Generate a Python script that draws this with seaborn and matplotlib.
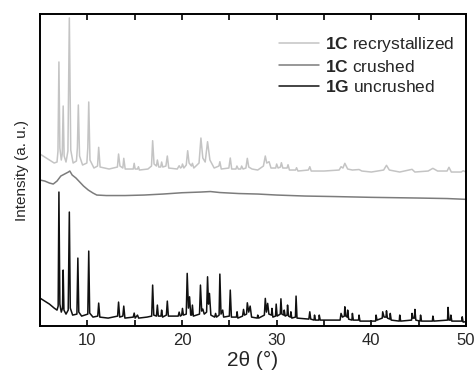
import matplotlib
matplotlib.use("Agg")
import matplotlib.pyplot as plt
import seaborn as sns
from matplotlib.ticker import MultipleLocator

# 1G uncrushed (black)
g_x = [5.0, 5.5, 6.0, 6.5, 6.8, 6.92, 7.0, 7.1, 7.25, 7.38, 7.45, 7.53, 7.75, 7.98, 8.1, 8.2, 8.45, 8.9, 9.0, 9.1,
       9.4, 10.05, 10.15, 10.25, 10.6, 11.1, 11.2, 11.32, 12.2, 13.2, 13.3, 13.42, 13.75, 13.85, 13.97, 14.85, 14.95,
       15.05, 15.3, 15.42, 16.3, 16.8, 16.9, 17.02, 17.3, 17.4, 17.5, 17.78, 17.85, 17.95, 18.35, 18.45, 18.56, 19.6,
       19.7, 19.82, 19.97, 20.05, 20.15, 20.45, 20.55, 20.68, 20.8, 20.92, 21.02, 21.1, 21.2, 21.85, 21.95, 22.08,
       22.2, 22.35, 22.6, 22.7, 22.8, 22.9, 23.05, 23.45, 23.55, 23.65, 23.92, 24.0, 24.12, 24.3, 24.4, 25.0, 25.1,
       25.22, 25.75, 25.82, 25.9, 26.4, 26.5, 26.6, 26.82, 26.9, 27.05, 27.2, 27.35, 27.95, 28.0, 28.1, 28.7, 28.8,
       28.92, 29.05, 29.18, 29.45, 29.5, 29.6, 29.88, 29.95, 30.05, 30.38, 30.45, 30.55, 30.75, 30.8, 30.9, 31.1,
       31.15, 31.25, 31.45, 31.5, 31.6, 31.98, 32.05, 32.15, 33.4, 33.5, 33.6, 33.95, 34.0, 34.1, 34.45, 34.5, 34.6,
       36.7, 36.8, 36.95, 37.15, 37.2, 37.3, 37.45, 37.5, 37.6, 37.95, 38.0, 38.1, 38.65, 38.7, 38.8, 40.45, 40.5,
       40.6, 41.15, 41.2, 41.35, 41.55, 41.6, 41.7, 41.95, 42.0, 42.1, 42.95, 43.0, 43.1, 44.25, 44.3, 44.4, 44.55,
       44.6, 44.7, 45.15, 45.2, 45.3, 46.45, 46.5, 46.6, 48.05, 48.1, 48.2, 48.35, 48.4, 48.5, 49.55, 49.6, 49.7, 50.0]
g_y = [28, 25, 22, 18, 16, 20, 134, 22, 14, 18, 56, 16, 12, 16, 114, 18, 11, 12, 68, 14,
       10, 12, 75, 13, 9, 10, 23, 9, 8, 10, 24, 9, 10, 20, 8, 9, 13,
       8, 11, 8, 9, 10, 41, 11, 10, 21, 10, 10, 16, 9, 11, 25, 10, 10,
       14, 10, 11, 17.7, 11, 12, 52.7, 18, 29.3, 11, 11, 21, 10, 12, 41, 15,
       17, 12, 14, 49.3, 22, 32.7, 11, 9, 12.7, 9, 11, 52, 12, 16, 9, 10, 36,
       9, 9, 14.3, 8, 10, 16.7, 11, 12, 23.3, 14, 20, 9, 8, 11, 8, 11, 27.7,
       14, 22.7, 12, 11, 17.7, 9, 10, 22, 10, 12, 27.3, 12, 11, 16, 10, 11,
       21, 10, 9, 14.3, 8, 9, 30, 8, 7, 14.3, 7, 6, 11, 6, 6, 11, 6,
       6, 12.7, 9, 10, 19.3, 10, 9, 16, 7, 6, 12.7, 6, 6, 11, 5, 5, 11,
       6, 8, 14.3, 9, 9, 15.3, 8, 7, 12.7, 6, 5, 11, 5, 6, 12.7, 8, 8,
       16.7, 6, 5, 11, 5, 5, 10, 5, 6, 18.7, 6, 6, 11, 5, 5, 9.3, 4, 4.5]

# 1C crushed (mid grey)
cc_x = [5.0, 5.5, 6.0, 6.4, 6.8, 7.2, 7.6, 8.0, 8.15, 8.4, 8.8, 9.2, 9.6, 10.1, 10.6, 11.0, 12.0, 14.0, 16.0,
        18.0, 20.0, 22.0, 23.0, 24.0, 26.0, 28.0, 30.0, 33.0, 36.0, 40.0, 45.0, 48.0, 50.0]
cc_y = [146, 145, 143, 142, 145, 150, 152, 154, 155, 151, 148, 144, 140, 136, 133, 131, 130.5, 130.5, 131,
        132, 133.3, 134, 134.5, 133.5, 132.5, 132, 131, 130, 129.5, 128.7, 128, 127.5, 126.7]

# 1C recrystallized (light grey)
cr_x = [5.0, 5.5, 6.0, 6.5, 6.8, 6.9, 7.0, 7.1, 7.25, 7.35, 7.45, 7.55, 7.75, 7.95, 8.1, 8.25, 8.5, 8.85, 8.95,
        9.05, 9.18, 9.5, 9.95, 10.05, 10.15, 10.28, 10.7, 11.08, 11.2, 11.35, 12.3, 13.18, 13.3, 13.45, 13.75,
        13.85, 14.0, 14.85, 14.95, 15.05, 15.3, 15.4, 15.5, 16.4, 16.78, 16.9, 17.05, 17.3, 17.4, 17.55, 17.75,
        17.85, 17.97, 18.3, 18.45, 18.6, 19.5, 19.7, 19.85, 19.97, 20.05, 20.2, 20.45, 20.6, 20.75, 21.0, 21.1,
        21.25, 21.8, 22.0, 22.2, 22.45, 22.7, 22.95, 23.4, 23.9, 24.0, 24.15, 24.95, 25.1, 25.25, 25.7, 25.8,
        25.95, 26.2, 26.3, 26.45, 26.75, 26.9, 27.05, 27.4, 28.0, 28.6, 28.8, 28.95, 29.2, 29.4, 29.9, 30.0,
        30.15, 30.4, 30.5, 30.65, 31.1, 31.2, 31.35, 32.0, 32.1, 32.25, 33.35, 33.5, 33.65, 35.0, 36.6, 36.8,
        37.0, 37.2, 37.5, 38.0, 38.7, 39.0, 40.0, 41.3, 41.6, 41.9, 43.0, 44.3, 44.6, 46.0, 46.5, 47.0, 48.0,
        48.2, 48.45, 49.5, 49.7, 50.0]
cr_y = [172, 169, 166, 163, 164, 175, 264, 178, 166, 172, 220, 170, 164, 175, 308, 176, 163, 165, 178,
        221, 170, 161, 163, 178, 224, 166, 158, 160, 178.7, 159, 157, 159, 172, 160, 158,
        167.7, 157, 157, 162.7, 157, 157, 159.3, 156, 157, 160, 185.3, 162, 160, 166, 159, 159,
        164, 159, 160, 170, 158, 157, 160.3, 158, 159, 162, 158, 161, 175.3, 163, 160, 162.7,
        158, 163, 188, 168, 164, 184.3, 166, 158, 160, 164.3, 157, 158, 168, 157, 157, 160,
        157, 157, 160, 157, 158, 167.7, 159, 157, 156, 160, 170, 163, 164.3, 158, 158, 162,
        158, 159, 163.3, 158, 158, 161.3, 156, 156, 158.3, 155, 156, 159.3, 155, 155, 156, 159.3,
        158, 162.7, 157, 156, 156.5, 155, 154, 156, 160.7, 156, 154, 156.7, 154, 155, 157.7, 155, 155,
        158.7, 154, 154, 155.3, 154]

sns.set_style("white")
plt.rcParams["font.family"] = ["Liberation Sans", "DejaVu Sans"]
plt.rcParams["mathtext.fontset"] = "custom"
plt.rcParams["mathtext.rm"] = "Liberation Sans"
plt.rcParams["mathtext.bf"] = "Liberation Sans:bold"

fig = plt.figure(figsize=(4.76, 3.77), dpi=100)
ax = fig.add_axes([0.084, 0.135, 0.895, 0.828])

sns.lineplot(x=cr_x, y=cr_y, color="#c4c4c4", lw=1.1, estimator=None, sort=False,
             label=r"$\mathbf{1C}$ recrystallized", ax=ax)
sns.lineplot(x=cc_x, y=cc_y, color="#7c7c7c", lw=1.1, estimator=None, sort=False,
             label=r"$\mathbf{1C}$ crushed", ax=ax)
sns.lineplot(x=g_x, y=g_y, color="#111111", lw=1.1, estimator=None, sort=False,
             label=r"$\mathbf{1G}$ uncrushed", ax=ax)

ax.set_xlim(5, 50)
ax.set_ylim(0, 312)
ax.set_yticks([])
ax.xaxis.set_major_locator(MultipleLocator(10))
ax.xaxis.set_minor_locator(MultipleLocator(5))
ax.tick_params(axis="x", which="both", direction="in", top=True, bottom=True,
               length=4, width=1.2, labelsize=12, pad=5, color="black")
for s in ax.spines.values():
    s.set_linewidth(1.4)
    s.set_color("black")

ax.set_xlabel("2θ (°)", fontsize=15, labelpad=2)
ax.set_ylabel("Intensity (a. u.)", fontsize=11, labelpad=8)

leg = ax.legend(loc="upper right", bbox_to_anchor=(0.973, 0.933), frameon=False,
                fontsize=12.5, handlelength=2.3, handletextpad=0.35, labelspacing=0.27,
                borderaxespad=0, borderpad=0)

fig.savefig("out.png", dpi=100)
